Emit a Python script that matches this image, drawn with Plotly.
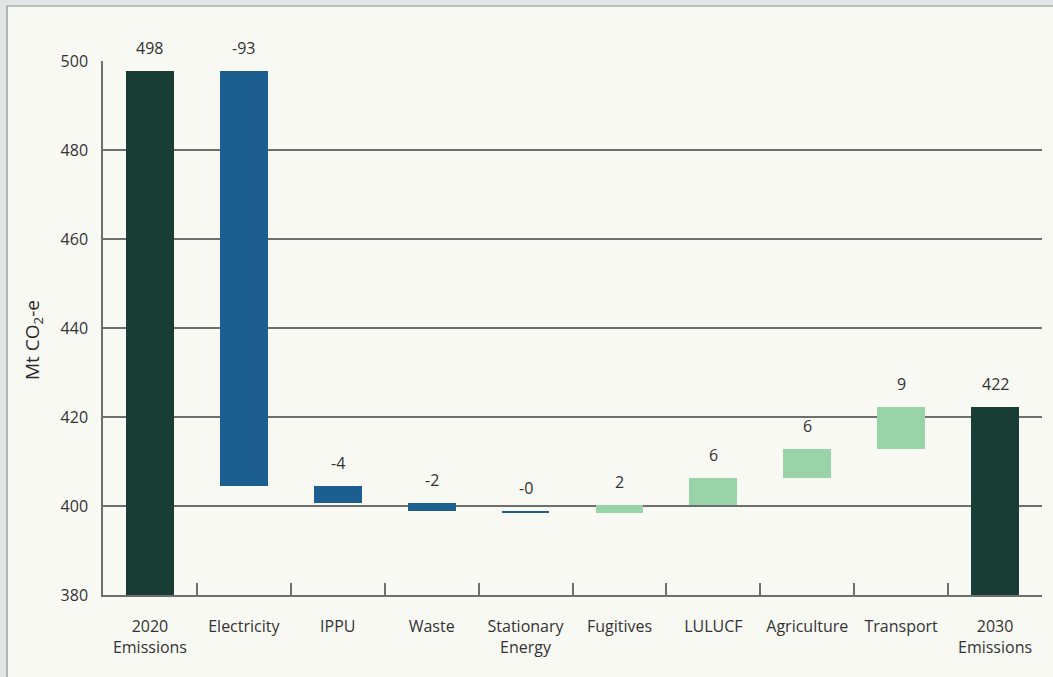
import plotly.graph_objects as go

categories = ["2020<br>Emissions", "Electricity", "IPPU", "Waste", "Stationary<br>Energy",
              "Fugitives", "LULUCF", "Agriculture", "Transport", "2030<br>Emissions"]
start_total = 497.8
deltas = [-93.2, -3.9, -1.9, -0.3, 1.8, 5.9, 6.5, 9.6]
value_labels = ["498", "-93", "-4", "-2", "-0", "2", "6", "6", "9", "422"]
y_title = "Mt CO<sub>2</sub>-e"

DARK = "#173d35"
BLUE = "#1d5e91"
LIGHT = "#99d4a8"
TXT = "#333333"

bases, heights, colors, tops = [], [], [], []
bases.append(0); heights.append(start_total); colors.append(DARK); tops.append(start_total)
level = start_total
for d in deltas:
    new = level + d
    lo, hi = min(level, new), max(level, new)
    bases.append(lo); heights.append(hi - lo); tops.append(hi)
    colors.append(BLUE if d < 0 else LIGHT)
    level = new
bases.append(0); heights.append(level); colors.append(DARK); tops.append(level)

fig = go.Figure()
fig.add_trace(go.Bar(x=categories, y=heights, base=bases, marker=dict(color=colors, line=dict(width=0)),
                     width=0.51, hoverinfo="skip"))

for c, t, lab in zip(categories, tops, value_labels):
    fig.add_annotation(x=c, y=t, text=lab, showarrow=False, yanchor="bottom", yshift=10,
                       font=dict(size=16, color=TXT, family="Open Sans"))

W, H = 1053, 677
L, R, T, B = 103, 11, 61, 82
pw, ph = W - L - R, H - T - B

fig.add_annotation(xref="paper", yref="paper", x=(33 - L) / pw, y=(H - B - 340) / ph,
                   text=y_title, textangle=-90, showarrow=False, xanchor="center", yanchor="middle",
                   font=dict(size=19, color="#2a2a2a", family="Open Sans"))

fig.add_shape(type="rect", xref="paper", yref="paper",
              x0=(7 - L) / pw, x1=1.2, y0=-0.3, y1=(H - B - 6) / ph,
              fillcolor="#f8f9f3", line=dict(color="#8e8e8e", width=1.2), layer="below")

fig.update_layout(
    width=W, height=H, margin=dict(l=L, r=R, t=T, b=B),
    paper_bgcolor="#e4e5e7", plot_bgcolor="rgba(0,0,0,0)",
    showlegend=False, bargap=0,
    font=dict(family="Open Sans", size=16, color=TXT),
    xaxis=dict(showgrid=False, showline=True, linecolor="#6e6e6e", linewidth=1.5,
               ticks="inside", tickson="boundaries", ticklen=12, tickcolor="#6e6e6e", tickwidth=1.5,
               tickfont=dict(size=16, color=TXT), ticklabelstandoff=16, fixedrange=True),
    yaxis=dict(range=[380, 500], tick0=380, dtick=20, showgrid=True, gridcolor="#6e6e6e", gridwidth=1.5,
               showline=True, linecolor="#6e6e6e", linewidth=1.5, ticks="", zeroline=False,
               tickfont=dict(size=16, color=TXT), ticklabelstandoff=10, fixedrange=True),
)

post = "document.body.style.margin='0';document.body.style.background='#e4e5e7';"
fig.write_html("out.html", post_script=post, config={"displayModeBar": False})
